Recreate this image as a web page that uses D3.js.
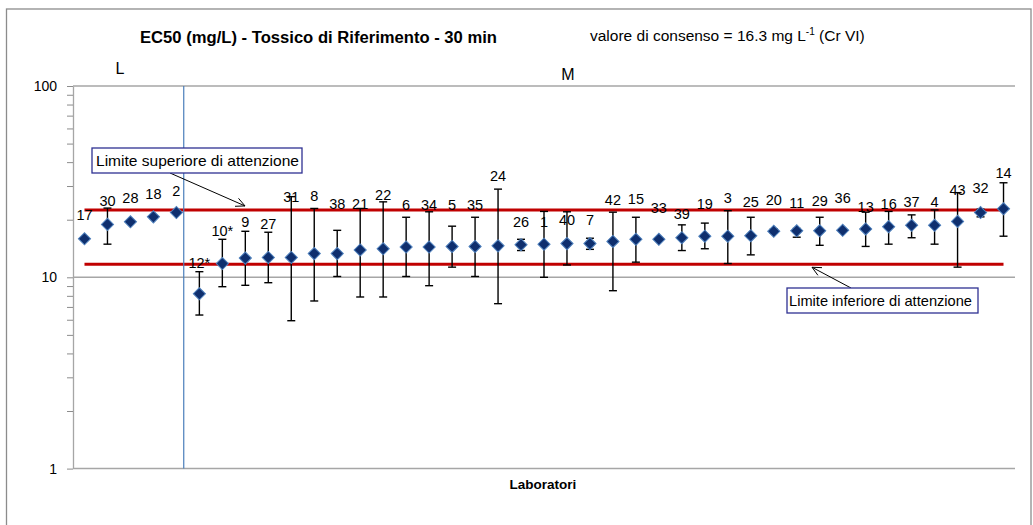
<!DOCTYPE html>
<html><head><meta charset="utf-8">
<script src="https://cdn.jsdelivr.net/npm/d3@7"></script>
<style>body{margin:0;background:#fff}svg{display:block}text{font-family:"Liberation Sans",Arial,sans-serif}</style>
</head><body><svg id="c" width="1033" height="525"></svg>
<script>
// ---- data ----
const labs = ["17","30","28","18","2","12*","10*","9","27","31","8","38","21","22","6","34","5","35","24","26","1","40","7","42","15","33","39","19","3","25","20","11","29","36","13","16","37","4","43","32","14"];
const values = [15.9,18.9,19.5,20.7,21.8, 8.2,11.8,12.6,12.7,12.7, 13.3,13.3,13.9,14.1,14.4, 14.4,14.5,14.5,14.6,14.8, 14.9,15.0,15.0,15.4,15.8, 15.8,16.1,16.4,16.4,16.5, 17.4,17.5,17.5,17.6,17.9, 18.4,18.7,18.7,19.6,21.8, 22.8];
const hi = [null,23.0,null,null,null, 10.7,15.8,17.4,17.2,26.4, 22.9,17.6,22.9,24.8,20.6, 22.0,18.5,20.6,28.9,15.8, 22.1,22.0,16.0,21.9,20.6, null,18.8,19.2,22.3,20.6, 17.9,18.0,20.6,null,21.9, 22.1,21.2,22.5,27.7,22.7, 31.2];
const lo = [null,14.9,null,null,null, 6.35,8.93,9.08,9.37,5.93, 7.52,10.1,7.89,7.89,10.1, 9.04,11.3,10.1,7.28,13.8, 10.0,11.6,14.0,8.51,12.0, null,13.8,14.1,11.8,13.1, 17.0,16.2,14.7,null,14.5, 14.9,16.1,14.9,11.3,20.7, 16.4];
const labelAt = [21.2,25.0,26.0,27.2,28.3, 11.9,17.5,19.5,19.1,26.4, 26.6,24.2,24.2,26.9,23.9, 23.9,23.9,23.9,33.8,19.5, 19.5,19.9,19.9,25.4,25.7, 23.0,21.4,24.2,26.1,24.8, 25.4,24.5,25.0,26.1,23.4, 24.2,24.8,24.8,28.8,29.2, 35.0];
const upperLimit = 22.5, lowerLimit = 11.7;
const yTicks = [1,10,100];
const groupL = "L", groupM = "M";

// ---- layout ----
const svg = d3.select("#c");
const pL = 73, pR = 1015, pT = 86, pB = 468.6;
const x = d3.scaleBand().domain(labs).range([pL, pR]).padding(0);
const cx = d => x(d) + x.bandwidth()/2;
const y = d3.scaleLog().domain([1,100]).range([pB, pT]);

// chart border
svg.append("rect").attr("x",6.5).attr("y",9).attr("width",1024.5).attr("height",530)
  .attr("fill","none").attr("stroke","#8c8c8c").attr("stroke-width",1.3);

// gridlines
svg.append("g").selectAll("line").data(yTicks).join("line")
  .attr("x1",pL).attr("x2",pR).attr("y1",d=>y(d)).attr("y2",d=>y(d))
  .attr("stroke","#a6a6a6").attr("stroke-width",1.5);

// y axis
const minor = [];
[1,10].forEach(b=>{for(let k=1;k<=10;k++) if(!(b===10&&k===1)) minor.push(b*k);});
const ax = svg.append("g").attr("transform",`translate(${pL},0)`)
  .call(d3.axisLeft(y).tickValues(minor).tickFormat(d=>yTicks.includes(d)?d3.format("d")(d):"").tickSize(6).tickSizeOuter(0).tickPadding(10));
ax.select(".domain").attr("stroke","#a6a6a6").attr("stroke-width",1.3);
ax.selectAll(".tick line").attr("stroke","#8c8c8c");
ax.selectAll(".tick text").attr("font-size","14px").attr("fill","#000").attr("font-family","Liberation Sans, Arial, sans-serif");

// limit lines
[upperLimit, lowerLimit].forEach(v=>{
  svg.append("line").attr("x1",cx(labs[0])).attr("x2",cx(labs[labs.length-1]))
    .attr("y1",y(v)).attr("y2",y(v)).attr("stroke","#c00000").attr("stroke-width",3);
});

// separator line between L and M
const sepX = cx(labs[4]) + x.bandwidth()*0.32;
svg.append("line").attr("x1",sepX).attr("x2",sepX).attr("y1",pT).attr("y2",pB)
  .attr("stroke","#4a7ebb").attr("stroke-width",1.2);

// error bars
const idx = d3.range(labs.length).filter(i=>hi[i]!=null);
const eb = svg.append("g").attr("stroke","#000").attr("stroke-width",1.4);
idx.forEach(i=>{
  const xc = cx(labs[i]);
  eb.append("line").attr("x1",xc).attr("x2",xc).attr("y1",y(hi[i])).attr("y2",y(lo[i]));
  eb.append("line").attr("x1",xc-4).attr("x2",xc+4).attr("y1",y(hi[i])).attr("y2",y(hi[i]));
  eb.append("line").attr("x1",xc-4).attr("x2",xc+4).attr("y1",y(lo[i])).attr("y2",y(lo[i]));
});

// markers
const sym = d3.symbol().type(d3.symbolSquare).size(74);
svg.append("g").selectAll("path").data(labs).join("path")
  .attr("d",sym)
  .attr("transform",(d,i)=>`translate(${cx(d)},${y(values[i])}) rotate(45)`)
  .attr("fill","#0f2f6e").attr("stroke","#4f81bd").attr("stroke-width",1);

// point labels
svg.append("g").selectAll("text").data(labs).join("text")
  .attr("x",d=>cx(d)).attr("y",(d,i)=>y(labelAt[i]))
  .attr("dy","0.36em").attr("text-anchor","middle").attr("font-size","14.5px").attr("fill","#000")
  .text(d=>d);

// titles
svg.append("text").attr("x",140).attr("y",43).attr("font-size","16px").attr("font-weight","bold")
  .attr("textLength",357).attr("lengthAdjust","spacingAndGlyphs")
  .text("EC50 (mg/L) - Tossico di Riferimento - 30 min");
const st = svg.append("text").attr("x",590).attr("y",41).attr("font-size","15.5px");
st.append("tspan").text("valore di consenso = 16.3 mg L");
st.append("tspan").attr("font-size","10px").attr("dy","-6").text("-1");
st.append("tspan").attr("dy","6").text(" (Cr VI)");

svg.append("text").attr("x",120).attr("y",74).attr("text-anchor","middle").attr("font-size","16px").text(groupL);
svg.append("text").attr("x",568).attr("y",80).attr("text-anchor","middle").attr("font-size","16px").text(groupM);

svg.append("text").attr("x",543).attr("y",489).attr("text-anchor","middle").attr("font-size","13.5px").attr("font-weight","bold").text("Laboratori");

// annotations
function annot(bx,by,bw,bh,text,tx,tw,ax1,ay1,ax2,ay2){
  const g = svg.append("g");
  g.append("line").attr("x1",ax1).attr("y1",ay1).attr("x2",ax2).attr("y2",ay2).attr("stroke","#000").attr("stroke-width",1);
  const ang = Math.atan2(ay2-ay1, ax2-ax1);
  const L = 10, a = 0.45;
  const p1 = [ax2 - L*Math.cos(ang-a), ay2 - L*Math.sin(ang-a)];
  const p2 = [ax2 - L*Math.cos(ang+a), ay2 - L*Math.sin(ang+a)];
  g.append("path").attr("d",`M${p1}L${ax2},${ay2}L${p2}`).attr("fill","none").attr("stroke","#000").attr("stroke-width",1);
  g.append("rect").attr("x",bx).attr("y",by).attr("width",bw).attr("height",bh)
    .attr("fill","#fff").attr("stroke","#2e3192").attr("stroke-width",1.3);
  g.append("text").attr("x",tx).attr("y",by+bh/2).attr("dy","0.36em").attr("font-size","15px")
    .attr("textLength",tw).attr("lengthAdjust","spacingAndGlyphs").text(text);
}
annot(92,148,210,25,"Limite superiore di attenzione",96,203,170,173,245,y(upperLimit)-4);
annot(787,288,191,25,"Limite inferiore di attenzione",789,183,851,288,812,y(lowerLimit)+3);
</script></body></html>
